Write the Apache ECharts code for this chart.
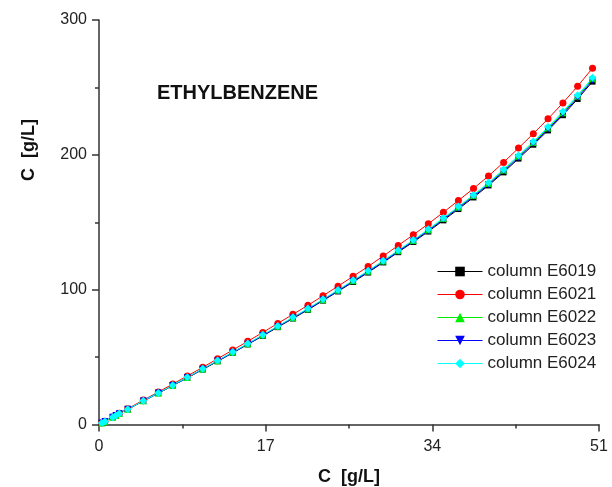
<!DOCTYPE html>
<html>
<head>
<meta charset="utf-8">
<script src="https://cdn.jsdelivr.net/npm/echarts@6/dist/echarts.min.js"></script>
<style>
  html, body { margin: 0; padding: 0; background: #fff; }
  #chart { width: 612px; height: 487px; }
</style>
</head>
<body>
<div id="chart"></div>
<script>
// Concentration points (x, g/L) shared by every column
var concX = [0.28, 0.61, 1.40, 1.73, 2.07, 2.93, 4.52, 6.05, 7.52, 9.01, 10.58, 12.10,
  13.64, 15.17, 16.71, 18.24, 19.78, 21.31, 22.85, 24.38, 25.92, 27.45, 28.99, 30.52,
  32.06, 33.59, 35.13, 36.66, 38.20, 39.73, 41.27, 42.79, 44.30, 45.80, 47.32, 48.82, 50.34];

var colE6019 = [1.1, 2.3, 5.4, 6.6, 8.0, 11.3, 17.4, 23.2, 28.9, 34.6, 40.8, 46.9, 53.1, 59.4, 65.7,
  72.2, 78.6, 85.0, 91.9, 98.7, 105.7, 112.7, 120.2, 127.8, 135.4, 143.1, 151.4, 159.8, 168.4,
  177.3, 187.0, 197.2, 207.5, 218.1, 229.4, 241.4, 254.3];
var colE6021 = [1.1, 2.4, 5.6, 6.9, 8.3, 11.7, 18.1, 24.1, 30.0, 36.0, 42.4, 48.8, 55.2, 61.7, 68.3,
  75.0, 81.7, 88.4, 95.5, 102.6, 109.9, 117.2, 124.9, 132.8, 140.7, 148.8, 157.4, 166.1, 175.0,
  184.3, 194.4, 205.0, 215.7, 226.7, 238.5, 250.9, 264.3];
var colE6022 = [1.1, 2.3, 5.4, 6.7, 8.1, 11.3, 17.6, 23.4, 29.1, 34.9, 41.1, 47.3, 53.5, 59.8, 66.3,
  72.8, 79.2, 85.7, 92.6, 99.5, 106.6, 113.7, 121.2, 128.8, 136.5, 144.3, 152.7, 161.1, 169.8,
  178.8, 188.6, 198.9, 209.2, 219.9, 231.3, 243.4, 256.4];
var colE6023 = [1.1, 2.3, 5.4, 6.7, 8.0, 11.3, 17.5, 23.3, 29.0, 34.8, 41.0, 47.1, 53.3, 59.6, 66.0,
  72.5, 78.9, 85.4, 92.3, 99.1, 106.2, 113.2, 120.7, 128.3, 135.9, 143.7, 152.0, 160.5, 169.1,
  178.0, 187.8, 198.0, 208.4, 219.0, 230.4, 242.4, 255.3];
var colE6024 = [1.1, 2.3, 5.4, 6.7, 8.1, 11.4, 17.6, 23.4, 29.2, 35.0, 41.3, 47.5, 53.7, 60.0, 66.5,
  73.0, 79.5, 86.0, 92.9, 99.8, 106.9, 114.0, 121.5, 129.2, 136.9, 144.8, 153.2, 161.6, 170.3,
  179.3, 189.2, 199.5, 209.9, 220.6, 232.1, 244.1, 257.2];

var xTicks = { min: 0, max: 51, interval: 17 };
var yTicks = { min: 0, max: 300, interval: 100 };

var FONT = 'Liberation Sans, Arial, Helvetica, sans-serif';

function pairs(ys) {
  return concX.map(function (x, i) { return [x, ys[i]]; });
}

var seriesDefs = [
  { name: 'column E6019', data: colE6019, color: '#000000', symbol: 'rect', size: 6, rotate: 0 },
  { name: 'column E6021', data: colE6021, color: '#ff0000', symbol: 'circle', size: 7, rotate: 0 },
  { name: 'column E6022', data: colE6022, color: '#00ee00', symbol: 'triangle', size: 7, rotate: 0 },
  { name: 'column E6023', data: colE6023, color: '#0000ff', symbol: 'triangle', size: 7, rotate: 180 },
  { name: 'column E6024', data: colE6024, color: '#00ffff', symbol: 'diamond', size: 8, rotate: 0 }
];

var chart = echarts.init(document.getElementById('chart'), null, { renderer: 'canvas' });

chart.setOption({
  animation: false,
  backgroundColor: '#ffffff',
  grid: { left: 99, right: 13, top: 20, bottom: 62.5, containLabel: false, outerBoundsMode: 'none' },
  title: {
    text: 'ETHYLBENZENE',
    left: 152, top: 78,
    textStyle: { fontFamily: FONT, fontSize: 20, fontWeight: 'bold', color: '#111' }
  },
  legend: {
    orient: 'vertical',
    left: 437, top: 263, padding: 0,
    itemWidth: 45, itemHeight: 12, itemGap: 6,
    lineStyle: { width: 1 },
    textStyle: { fontFamily: FONT, fontSize: 17, lineHeight: 17, color: '#222' },
    data: seriesDefs.map(function (s) { return s.name; })
  },
  xAxis: {
    type: 'value',
    min: xTicks.min, max: xTicks.max, interval: xTicks.interval,
    name: 'C  [g/L]', nameLocation: 'middle', nameGap: 44,
    nameTextStyle: { fontFamily: FONT, fontSize: 18, fontWeight: 'bold', color: '#111' },
    axisLine: { show: true, lineStyle: { color: '#333', width: 1.5 } },
    axisTick: { show: true, inside: false, length: 7, lineStyle: { color: '#333', width: 1.5 } },
    minorTick: { show: true, splitNumber: 2, length: 4, lineStyle: { color: '#333', width: 1.5 } },
    axisLabel: { margin: 14, fontFamily: FONT, fontSize: 16, color: '#222' },
    splitLine: { show: false }
  },
  yAxis: {
    type: 'value',
    min: yTicks.min, max: yTicks.max, interval: yTicks.interval,
    axisLine: { show: true, lineStyle: { color: '#333', width: 1.5 } },
    axisTick: { show: true, inside: false, length: 7, lineStyle: { color: '#333', width: 1.5 } },
    minorTick: { show: true, splitNumber: 2, length: 4, lineStyle: { color: '#333', width: 1.5 } },
    axisLabel: { margin: 12, fontFamily: FONT, fontSize: 16, color: '#222' },
    splitLine: { show: false }
  },
  graphic: [{
    type: 'text',
    x: 29, y: 150,
    rotation: Math.PI / 2,
    style: {
      text: 'C  [g/L]',
      fontFamily: FONT, fontSize: 18, fontWeight: 'bold', fill: '#111',
      textAlign: 'center', textVerticalAlign: 'middle'
    }
  }],
  series: seriesDefs.map(function (s) {
    return {
      name: s.name,
      type: 'line',
      data: pairs(s.data),
      symbol: s.symbol,
      symbolSize: s.size,
      symbolRotate: s.rotate,
      showAllSymbol: true,
      lineStyle: { color: s.color, width: 1 },
      itemStyle: { color: s.color },
      emphasis: { disabled: true }
    };
  })
});
</script>
</body>
</html>
